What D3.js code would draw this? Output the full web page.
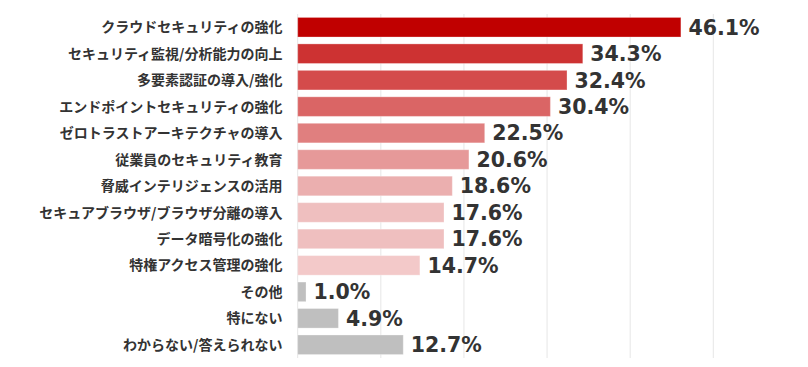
<!DOCTYPE html>
<html><head><meta charset="utf-8">
<script src="https://cdn.jsdelivr.net/npm/d3@7/dist/d3.min.js"></script>
<style>body{margin:0;background:#fff;}svg{display:block;}</style>
</head><body><svg id="c" width="808" height="367"></svg>
<script>
const categories = ["クラウドセキュリティの強化","セキュリティ監視/分析能力の向上","多要素認証の導入/強化","エンドポイントセキュリティの強化","ゼロトラストアーキテクチャの導入","従業員のセキュリティ教育","脅威インテリジェンスの活用","セキュアブラウザ/ブラウザ分離の導入","データ暗号化の強化","特権アクセス管理の強化","その他","特にない","わからない/答えられない"];
const values = [46.1,34.3,32.4,30.4,22.5,20.6,18.6,17.6,17.6,14.7,1.0,4.9,12.7];
const barColors = ["#c00000","#cd3232","#d44b4b","#da6565","#e07f7f","#e69999","#ebafaf","#efbfbf","#efbfbf","#f3c9c9","#bfbfbf","#bfbfbf","#bfbfbf"];
const ticks = [0,10,20,30,40,50];

const svg = d3.select("#c");
const x = d3.scaleLinear().domain([0,50]).range([297.7,713.3]);
const y = d3.scaleBand().domain(categories).range([14,358]).paddingInner(0.26).paddingOuter(0.13);

svg.append("g").selectAll("line").data(ticks).join("line")
  .attr("x1",d=>x(d)).attr("x2",d=>x(d)).attr("y1",14).attr("y2",358)
  .attr("stroke","#e6e6e6").attr("stroke-width",1);

const data = categories.map((c,i)=>({c, v: values[i], col: barColors[i]}));

svg.append("g").selectAll("rect").data(data).join("rect")
  .attr("x",x(0)).attr("y",d=>y(d.c)).attr("width",d=>x(d.v)-x(0)).attr("height",y.bandwidth())
  .attr("fill",d=>d.col).attr("stroke","rgba(255,255,255,0.3)").attr("stroke-width",1);

svg.append("g").selectAll("text").data(data).join("text")
  .attr("x",282.5).attr("y",d=>y(d.c)+y.bandwidth()/2).attr("dy","0.36em")
  .attr("text-anchor","end").attr("font-family","'Noto Sans CJK JP', sans-serif")
  .attr("font-weight","bold").attr("font-size","14px").attr("fill","#333")
  .text(d=>d.c);

svg.append("g").selectAll("text").data(data).join("text")
  .attr("x",d=>x(d.v)+7.5).attr("y",d=>y(d.c)+y.bandwidth()/2).attr("dy","0.36em")
  .attr("font-family","'DejaVu Sans', Verdana, sans-serif")
  .attr("font-weight","bold").attr("font-size","20.5px").attr("fill","#333")
  .text(d=>d.v.toFixed(1)+"%");
</script></body></html>
